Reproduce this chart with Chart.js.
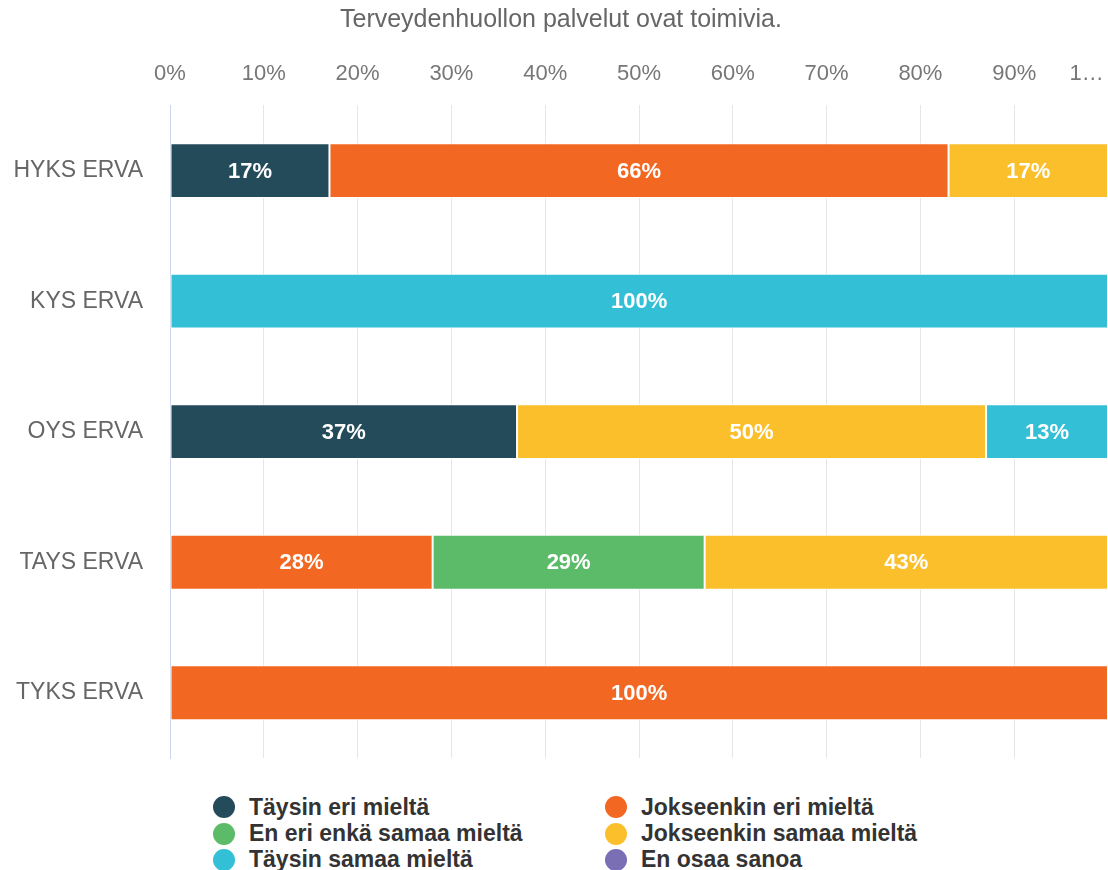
<!DOCTYPE html>
<html>
<head>
<meta charset="utf-8">
<script src="https://cdn.jsdelivr.net/npm/chart.js@4.4.1/dist/chart.umd.min.js"></script>
<style>
    html, body { margin: 0; padding: 0; background: #fff; overflow: hidden; }
    #wrap { position: relative; width: 1108px; height: 760px; }
    #legend {
        position: absolute; left: 213px; top: 794px;
        display: grid; grid-template-columns: 392px 392px; grid-auto-rows: 26.4px;
        font: bold 23px 'Liberation Sans', Arial, sans-serif; color: #333;
    }
    #legend .item { display: flex; align-items: center; white-space: nowrap; }
    #legend .dot { width: 22px; height: 22px; border-radius: 50%; margin-right: 14px; flex: none; }
</style>
</head>
<body>
<div id="wrap"><canvas id="chart"></canvas></div>
<div id="legend"></div>
<script>
const FONT = "'Liberation Sans', Arial, sans-serif"

const regions = ['HYKS ERVA', 'KYS ERVA', 'OYS ERVA', 'TAYS ERVA', 'TYKS ERVA']

const answers = [
    'Täysin eri mieltä',
    'Jokseenkin eri mieltä',
    'En eri enkä samaa mieltä',
    'Jokseenkin samaa mieltä',
    'Täysin samaa mieltä',
    'En osaa sanoa',
]
const answerColors = ['#234b5a', '#f26822', '#5cbb69', '#fbbf2c', '#33bfd6', '#7a6eb5']

// percentages per region, one array per answer
const taysinEri = [17, 0, 37, 0, 0]
const jokseenkinEri = [66, 0, 0, 28, 100]
const enEriEnka = [0, 0, 0, 29, 0]
const jokseenkinSamaa = [17, 0, 50, 43, 0]
const taysinSamaa = [0, 100, 13, 0, 0]
const enOsaa = [0, 0, 0, 0, 0]

const xTicks = [0, 10, 20, 30, 40, 50, 60, 70, 80, 90, 100]

const series = [taysinEri, jokseenkinEri, enEriEnka, jokseenkinSamaa, taysinSamaa, enOsaa]

const barLabels = {
    id: 'barLabels',
    afterDatasetsDraw(chart) {
        const ctx = chart.ctx
        ctx.save()
        ctx.font = 'bold 22px ' + FONT
        ctx.fillStyle = '#fff'
        ctx.textAlign = 'center'
        ctx.textBaseline = 'middle'
        chart.data.datasets.forEach((ds, i) => {
            const meta = chart.getDatasetMeta(i)
            meta.data.forEach((bar, j) => {
                const v = ds.data[j]
                if (!v) return
                ctx.fillText(v + '%', (bar.x + bar.base) / 2, bar.y + 1)
            })
        })
        ctx.restore()
    },
}

const chart = new Chart('chart', {
    type: 'bar',
    data: {
        labels: regions,
        datasets: answers.map((name, i) => ({
            label: name,
            data: series[i],
            backgroundColor: answerColors[i],
            borderColor: '#ffffff',
            borderWidth: 1,
            borderSkipped: false,
            barPercentage: 0.42,
            categoryPercentage: 1,
        })),
    },
    options: {
        indexAxis: 'y',
        responsive: true,
        maintainAspectRatio: false,
        animation: false,
        layout: { padding: { left: 0, right: 0, top: 0, bottom: 2 } },
        plugins: {
            legend: { display: false },
            tooltip: { enabled: false },
            title: {
                display: true,
                // two leading spaces nudge the centred title a little right, as in the original
                text: '\u00a0\u00a0Terveydenhuollon palvelut ovat toimivia.',
                color: '#666',
                font: { family: FONT, size: 25, weight: 'normal' },
                padding: { top: 5, bottom: 8 },
            },
        },
        scales: {
            x: {
                position: 'top',
                stacked: true,
                min: 0,
                max: 100,
                afterBuildTicks: (scale) => {
                    scale.ticks = xTicks.map((v) => ({ value: v }))
                },
                afterFit: (scale) => {
                    scale.paddingLeft = 0
                    scale.paddingRight = 0
                },
                grid: { color: '#e6e6e6', lineWidth: 1, drawTicks: false },
                border: { display: false },
                ticks: {
                    color: '#777',
                    font: { family: FONT, size: 22 },
                    padding: 18,
                    autoSkip: false,
                    maxRotation: 0,
                    callback: (v) => (v === 100 ? '1…' + '\u00a0'.repeat(7) : v + '%'),
                },
            },
            y: {
                stacked: true,
                afterFit: (scale) => {
                    scale.width = 170
                    scale.paddingTop = 0
                    scale.paddingBottom = 0
                },
                grid: { display: false },
                border: { display: true, color: '#ccd6eb', width: 1 },
                ticks: {
                    color: '#666',
                    font: { family: FONT, size: 23 },
                    padding: 19,
                },
            },
        },
    },
    plugins: [barLabels],
})

// two-column legend under the chart, built from the datasets
const legendEl = document.getElementById('legend')
chart.data.datasets.forEach((ds) => {
    const item = document.createElement('div')
    item.className = 'item'
    const dot = document.createElement('span')
    dot.className = 'dot'
    dot.style.background = ds.backgroundColor
    const txt = document.createElement('span')
    txt.textContent = ds.label
    item.appendChild(dot)
    item.appendChild(txt)
    legendEl.appendChild(item)
})
</script>
</body>
</html>
